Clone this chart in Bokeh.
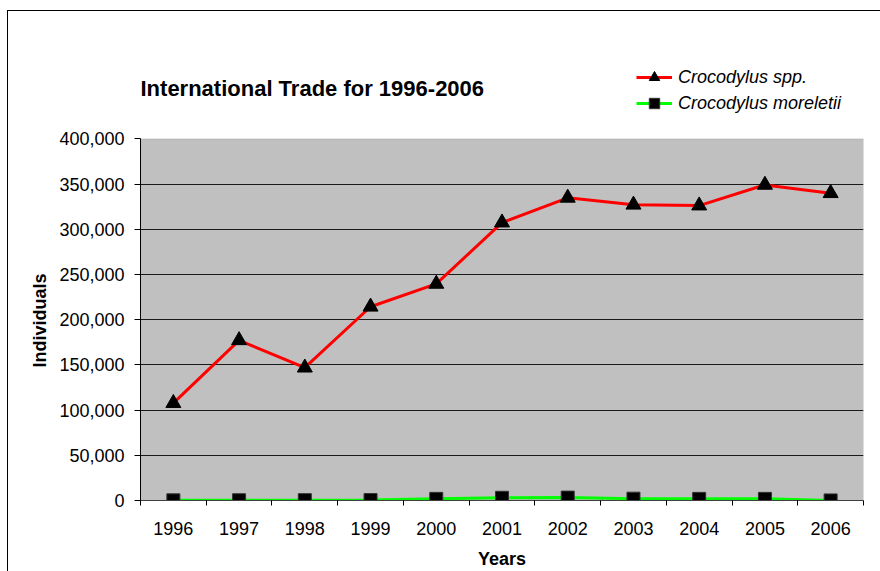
from bokeh.plotting import figure
from bokeh.models import (ColumnDataSource, Range1d, FixedTicker, NumeralTickFormatter,
                          Legend, LegendItem, Label, BoxAnnotation, Title)
from bokeh.embed import file_html
from bokeh.resources import INLINE

# ---- data ----
years = [1996, 1997, 1998, 1999, 2000, 2001, 2002, 2003, 2004, 2005, 2006]
crocodylus_spp = [107700, 177200, 146900, 214300, 239600, 307400, 334800, 327100, 326200, 349100, 339900]
crocodylus_moreletii = [200, 300, 400, 500, 1800, 3000, 3200, 2000, 1800, 1800, 100]
y_ticks = [0, 50000, 100000, 150000, 200000, 250000, 300000, 350000, 400000]
title_text = "International Trade for 1996-2006"
series_names = ["Crocodylus spp.", "Crocodylus moreletii"]
x_label = "Years"
y_label = "Individuals"

FONT = "Liberation Sans"
Y_TOP = 503300      # headroom above the plot area for the title and legend
TITLE_Y = 456000

src = ColumnDataSource(dict(year=years, spp=crocodylus_spp, mor=crocodylus_moreletii))

p = figure(width=880, height=571, output_backend="svg", toolbar_location=None,
           x_range=Range1d(years[0] - 0.5, years[-1] + 0.5),
           y_range=Range1d(y_ticks[0], Y_TOP),
           min_border_left=140, min_border_right=17, min_border_top=45, min_border_bottom=68)
p.styles = {"background": "linear-gradient(#000,#000) 7px 10px / 1px 700px no-repeat, "
                          "linear-gradient(#000,#000) 7px 10px / 1000px 1px no-repeat, #ffffff"}

p.background_fill_alpha = 0
p.border_fill_alpha = 0
p.outline_line_alpha = 0

# grey plot area
p.add_layout(BoxAnnotation(bottom=y_ticks[0], top=y_ticks[-1], fill_color="#C0C0C0", fill_alpha=1,
                           line_color="#808080", line_width=1, level="image"))

# x axis
boundaries = [y - 0.5 for y in years] + [years[-1] + 0.5]
p.xaxis.ticker = FixedTicker(ticks=years, minor_ticks=boundaries)
p.xaxis.major_tick_out = 0
p.xaxis.major_tick_in = 0
p.xaxis.minor_tick_out = 5
p.xaxis.minor_tick_in = 0
p.xaxis.minor_tick_line_color = "#000000"
p.xaxis.axis_line_color = "#404040"
p.xaxis.major_label_text_font = FONT
p.xaxis.major_label_text_font_size = "18px"
p.xaxis.major_label_text_color = "black"
p.xaxis.major_label_standoff = 16
p.xaxis.axis_label = x_label
p.xaxis.axis_label_text_font = FONT
p.xaxis.axis_label_text_font_size = "18px"
p.xaxis.axis_label_text_font_style = "bold"
p.xaxis.axis_label_text_color = "black"
p.xaxis.axis_label_standoff = 11
p.xgrid.visible = False

# y axis
p.yaxis.ticker = FixedTicker(ticks=y_ticks)
p.yaxis.bounds = (y_ticks[0], y_ticks[-1])
p.yaxis.formatter = NumeralTickFormatter(format="0,0")
p.yaxis.major_tick_out = 6
p.yaxis.major_tick_in = 0
p.yaxis.minor_tick_out = 0
p.yaxis.minor_tick_in = 0
p.yaxis.axis_line_color = "black"
p.yaxis.major_tick_line_color = "black"
p.yaxis.major_label_text_font = FONT
p.yaxis.major_label_text_font_size = "18px"
p.yaxis.major_label_text_color = "black"
p.yaxis.major_label_standoff = 10
p.ygrid.ticker = FixedTicker(ticks=y_ticks[1:-1])
p.ygrid.grid_line_color = "#1a1a1a"
p.ygrid.grid_line_width = 1

# y axis title, centred on the grey plot area rather than the whole frame
p.add_layout(Title(text=y_label, align="right", offset=228, standoff=14,
                   text_font=FONT, text_font_size="18px", text_font_style="bold",
                   text_color="black"), "left")

# series
l1 = p.line("year", "spp", source=src, line_color="#FF0000", line_width=3)
m1 = p.scatter("year", "spp", source=src, marker="triangle", size=15,
               fill_color="black", line_color="black")
l2 = p.line("year", "mor", source=src, line_color="#00FF00", line_width=3)
m2 = p.scatter("year", "mor", source=src, marker="square", size=13,
               fill_color="black", line_color="#333333")

legend = Legend(items=[LegendItem(label=series_names[0], renderers=[l1, m1]),
                       LegendItem(label=series_names[1], renderers=[l2, m2])],
                location=(486, 374), orientation="vertical",
                glyph_width=36, glyph_height=26, spacing=0, padding=10, margin=0,
                label_standoff=6, label_text_font=FONT, label_text_font_size="18px",
                label_text_font_style="italic", label_text_color="black",
                border_line_alpha=0, background_fill_alpha=0)
p.add_layout(legend, "center")

title = Label(x=years[0] - 0.5, y=TITLE_Y, text=title_text, text_font=FONT,
              text_font_size="22px", text_font_style="bold", text_color="black",
              text_baseline="middle", text_align="left")
p.add_layout(title)

open("out.html", "w").write(file_html(p, INLINE))
